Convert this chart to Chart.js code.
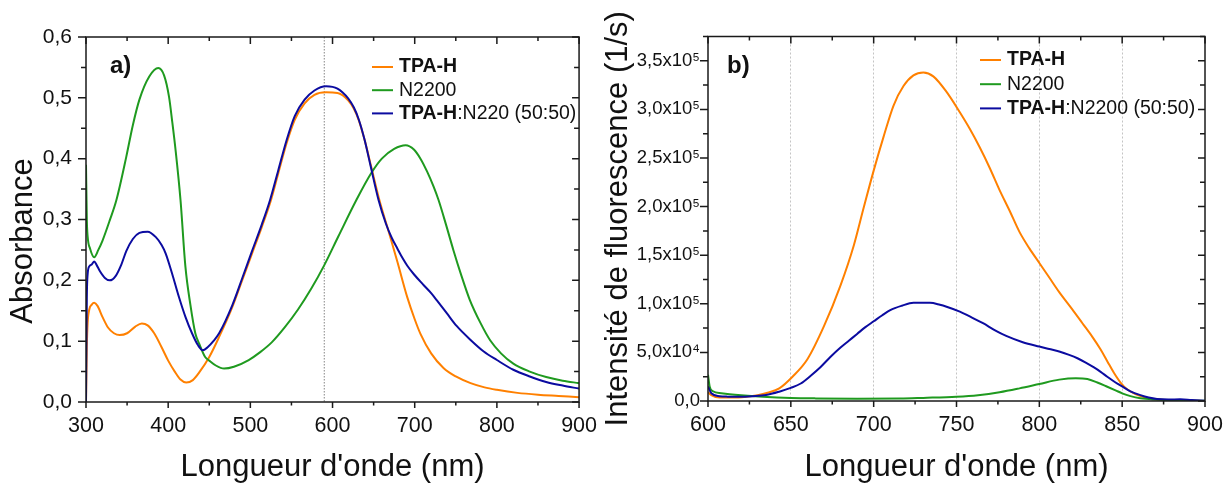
<!DOCTYPE html>
<html>
<head>
<meta charset="utf-8">
<script src="https://cdn.jsdelivr.net/npm/chart.js@4.4.1/dist/chart.umd.min.js"></script>
<style>
  html, body { margin: 0; padding: 0; background: #fff; }
  #wrap { position: relative; width: 1227px; height: 483px; }
  #abs-chart { position: absolute; left: 0; top: 0; }
  #fluo-chart { position: absolute; left: 600px; top: 0; }
</style>
</head>
<body>
<div id="wrap">
  <canvas id="abs-chart" width="600" height="483"></canvas>
  <canvas id="fluo-chart" width="627" height="483"></canvas>
</div>
<script>
const FONT = "'Liberation Sans', Arial, sans-serif"
const INK = '#111'
const COLORS = ['#ff8000', '#1f9a1f', '#0b0ba0']

// ---- a) absorbance ----
const tpaAbsX = [300, 301, 302, 304, 307, 310, 314, 320, 327, 334, 341, 350, 360, 368, 375, 383, 392, 400, 408, 415, 422, 430, 438, 450, 462, 478, 490, 502, 514, 524, 534, 544, 554, 566, 578, 592, 606, 619, 626, 632, 639, 647, 657, 669, 679, 691, 700, 707, 720, 735, 750, 768, 785, 800, 825, 850, 875, 900]
const tpaAbsY = [0, 0.09, 0.13, 0.152, 0.16, 0.163, 0.158, 0.14, 0.122, 0.113, 0.11, 0.113, 0.124, 0.129, 0.126, 0.113, 0.09, 0.068, 0.05, 0.037, 0.032, 0.036, 0.049, 0.074, 0.107, 0.156, 0.2, 0.244, 0.288, 0.327, 0.376, 0.425, 0.464, 0.491, 0.505, 0.509, 0.508, 0.496, 0.482, 0.463, 0.431, 0.387, 0.332, 0.277, 0.23, 0.172, 0.136, 0.112, 0.08, 0.056, 0.042, 0.031, 0.024, 0.02, 0.015, 0.012, 0.01, 0.008]

const n2200AbsX = [300, 301, 302, 305, 310, 315, 320, 329, 337, 349, 357, 365, 377, 388, 395, 401, 405, 409, 415, 421, 427, 433, 438, 445, 450, 458, 468, 480, 498, 512, 526, 542, 558, 574, 590, 607, 629, 647, 660, 675, 689, 699, 707, 715, 723, 729, 738, 747, 757, 767, 780, 792, 805, 820, 840, 860, 880, 900]
const n2200AbsY = [0.39, 0.3, 0.272, 0.252, 0.238, 0.25, 0.265, 0.299, 0.332, 0.403, 0.455, 0.497, 0.535, 0.549, 0.537, 0.502, 0.46, 0.414, 0.332, 0.222, 0.16, 0.113, 0.095, 0.074, 0.068, 0.06, 0.055, 0.058, 0.069, 0.082, 0.098, 0.123, 0.152, 0.186, 0.225, 0.272, 0.332, 0.376, 0.4, 0.416, 0.422, 0.415, 0.4, 0.379, 0.354, 0.332, 0.292, 0.25, 0.207, 0.168, 0.13, 0.101, 0.08, 0.063, 0.05, 0.041, 0.035, 0.031]

const blendAbsX = [300, 301, 302, 304, 307, 310, 313, 317, 323, 329, 336, 343, 349, 357, 365, 375, 385, 392, 397, 405, 413, 421, 429, 436, 442, 448, 455, 462, 478, 490, 502, 514, 524, 534, 544, 554, 566, 578, 592, 600, 606, 612, 619, 626, 632, 639, 646, 656, 665, 672, 679, 685, 691, 699, 711, 720, 727, 739, 751, 768, 784, 800, 820, 840, 860, 880, 900]
const blendAbsY = [0, 0.17, 0.21, 0.223, 0.226, 0.231, 0.225, 0.215, 0.204, 0.2, 0.207, 0.226, 0.248, 0.268, 0.278, 0.28, 0.271, 0.258, 0.244, 0.21, 0.173, 0.14, 0.113, 0.094, 0.085, 0.09, 0.1, 0.113, 0.159, 0.203, 0.248, 0.292, 0.332, 0.381, 0.43, 0.47, 0.497, 0.512, 0.519, 0.518, 0.515, 0.509, 0.499, 0.484, 0.464, 0.431, 0.39, 0.332, 0.293, 0.27, 0.252, 0.237, 0.224, 0.21, 0.192, 0.179, 0.167, 0.146, 0.125, 0.102, 0.083, 0.069, 0.053, 0.042, 0.033, 0.027, 0.022]

const absXTicks = [300, 400, 500, 600, 700, 800, 900]
const absYTicks = [0, 0.1, 0.2, 0.3, 0.4, 0.5, 0.6]
const absYLabels = ['0,0', '0,1', '0,2', '0,3', '0,4', '0,5', '0,6']
const markerNm = 590

// ---- b) fluorescence ----
const tpaFluoX = [600, 602, 607, 615, 623, 630, 636, 643, 651, 660, 670, 680, 688, 694, 700, 706, 712, 718, 724, 730, 736, 744, 752, 758, 764, 770, 776, 782, 788, 794, 800, 806, 812, 820, 826, 832, 837, 841, 845, 849, 853, 858, 863, 870, 877, 885, 900]
const tpaFluoY = [9000, 6000, 3500, 3500, 4400, 6000, 8500, 13000, 25000, 43000, 77000, 119000, 160000, 199000, 237000, 272000, 304000, 324000, 335000, 338000, 334000, 318000, 297000, 280000, 261000, 240000, 217000, 196000, 174000, 157000, 142000, 127000, 112000, 94000, 80000, 66000, 53000, 41000, 29000, 19000, 12000, 7000, 4000, 1800, 1000, 500, 0]

const n2200FluoX = [600, 601, 603, 608, 613, 620, 633, 650, 665, 690, 716, 730, 750, 763, 776, 788, 800, 812, 822, 829, 835, 841, 846, 850, 855, 861, 870, 880, 900]
const n2200FluoY = [27000, 15000, 10000, 8000, 6900, 5800, 4400, 3200, 2700, 2300, 2500, 3200, 4400, 6000, 9000, 13000, 17500, 22000, 23500, 22600, 19000, 14700, 11000, 7900, 5000, 2800, 1500, 800, 200]

const blendFluoX = [600, 602, 607, 612, 619, 627, 635, 643, 650, 656, 662, 668, 674, 680, 685, 690, 695, 700, 705, 710, 717, 724, 734, 740, 744, 752, 758, 766, 773, 780, 790, 800, 806, 812, 818, 823, 828, 833, 837, 841, 846, 850, 855, 861, 866, 871, 878, 885, 892, 900]
const blendFluoY = [15000, 8000, 5000, 4500, 4400, 5000, 6200, 9600, 13500, 18000, 26000, 35000, 45500, 55000, 62000, 69000, 76000, 82000, 88000, 93500, 98000, 101000, 101000, 99000, 97000, 92000, 87000, 80000, 73000, 67000, 60500, 56000, 53500, 51000, 47500, 44000, 39500, 34500, 30000, 25000, 19000, 15000, 10000, 6000, 3500, 2000, 1500, 1800, 1000, 300]

const fluoXTicks = [600, 650, 700, 750, 800, 850, 900]
const fluoYTicks = [0, 50000, 100000, 150000, 200000, 250000, 300000, 350000]
const fluoYLabels = ['0,0', '5,0x10\u2074', '1,0x10\u2075', '1,5x10\u2075', '2,0x10\u2075', '2,5x10\u2075', '3,0x10\u2075', '3,5x10\u2075']

const seriesNames = ['TPA-H', 'N2200', 'TPA-H:N2200 (50:50)']
const absLegend = [[['TPA-H', true]], [['N2200', false]], [['TPA-H', true], [':N220 (50:50)', false]]]
const fluoLegend = [[['TPA-H', true]], [['N2200', false]], [['TPA-H', true], [':N2200 (50:50)', false]]]

function toPoints(xs, ys) {
    return xs.map((x, i) => ({ x: x, y: ys[i] }))
}

function makeDatasets(pairs) {
    // orange at the bottom, blue on top
    return pairs.map(([xs, ys], i) => ({
        label: seriesNames[i],
        data: toPoints(xs, ys),
        borderColor: COLORS[i],
        borderWidth: 2,
        pointRadius: 0,
        cubicInterpolationMode: 'monotone',
        order: 3 - i,
    }))
}

// box round the plot with Origin style ticks (out on left/bottom, in on top/right)
const framePlugin = {
    id: 'frame',
    afterDraw(chart, args, opts) {
        let { ctx, chartArea: a, scales: { x, y } } = chart
        ctx.save()
        ctx.strokeStyle = '#1a1a1a'
        ctx.lineWidth = 1.5
        ctx.strokeRect(a.left, a.top, a.right - a.left, a.bottom - a.top)
        ctx.beginPath()
        let nx = Math.round((x.max - x.min) / opts.xMinor)
        for (let i = 0; i <= nx; i++) {
            let px = x.getPixelForValue(x.min + i * opts.xMinor)
            let major = i % 2 === 0
            ctx.moveTo(px, a.bottom); ctx.lineTo(px, a.bottom + (major ? 6 : 3.5))
            ctx.moveTo(px, a.top); ctx.lineTo(px, a.top + (major ? 7 : 4))
        }
        let ny = Math.round((y.max - y.min) / opts.yMinor)
        for (let i = 0; i <= ny; i++) {
            let py = y.getPixelForValue(y.min + i * opts.yMinor)
            let major = i % 2 === 0
            ctx.moveTo(a.left, py); ctx.lineTo(a.left - (major ? 8 : 5), py)
            ctx.moveTo(a.right, py); ctx.lineTo(a.right - (major ? 7 : 5), py)
        }
        ctx.stroke()
        ctx.restore()
    }
}

// legend with part-bold labels, panel letter, optional free y title
const notesPlugin = {
    id: 'notes',
    beforeDatasetsDraw(chart, args, opts) {
        if (opts.marker == null) return
        let { ctx, chartArea: a, scales: { x } } = chart
        let px = x.getPixelForValue(opts.marker)
        ctx.save()
        ctx.strokeStyle = '#9a9a9a'
        ctx.lineWidth = 1.2
        ctx.setLineDash([1.5, 1.5])
        ctx.beginPath(); ctx.moveTo(px, a.top); ctx.lineTo(px, a.bottom); ctx.stroke()
        ctx.restore()
    },
    afterDraw(chart, args, opts) {
        let { ctx } = chart
        ctx.save()
        ctx.textBaseline = 'middle'
        ctx.fillStyle = INK
        chart.data.datasets.forEach((ds, i) => {
            let yy = opts.top + i * opts.rowGap
            ctx.strokeStyle = ds.borderColor
            ctx.lineWidth = 2
            ctx.beginPath(); ctx.moveTo(opts.left, yy); ctx.lineTo(opts.left + 21, yy); ctx.stroke()
            let xx = opts.left + 27
            for (let [txt, bold] of opts.items[i]) {
                ctx.font = (bold ? 'bold ' : '') + '19.5px ' + FONT
                ctx.fillText(txt, xx, yy)
                xx += ctx.measureText(txt).width
            }
        })
        ctx.textBaseline = 'alphabetic'
        ctx.font = 'bold 24px ' + FONT
        ctx.fillText(opts.panel, opts.panelX, 73)
        if (opts.yTitle) {
            ctx.translate(opts.yTitleX, opts.yTitleY)
            ctx.rotate(-Math.PI / 2)
            ctx.textAlign = 'center'
            ctx.textBaseline = 'middle'
            ctx.font = '31px ' + FONT
            ctx.fillText(opts.yTitle, 0, 0)
        }
        ctx.restore()
    }
}

function xScale(min, max, ticks, height, gridColor) {
    return {
        type: 'linear', min: min, max: max,
        afterBuildTicks: s => { s.ticks = ticks.map(v => ({ value: v })) },
        afterFit: s => { s.height = height },
        ticks: { font: { family: FONT, size: 21.5 }, color: INK, padding: 3, maxRotation: 0, autoSkip: false },
        grid: { drawOnChartArea: !!gridColor, color: gridColor || 'transparent', tickColor: 'transparent', tickLength: 8, lineWidth: 1 },
        border: { display: false, dash: [2, 2] },
        title: { display: true, text: "Longueur d'onde (nm)", color: INK, font: { family: FONT, size: 31, lineHeight: 1 }, padding: { top: 0, bottom: 0.5 } },
    }
}

function yScale(min, max, ticks, labels, width, size, pad, title) {
    return {
        type: 'linear', min: min, max: max,
        afterBuildTicks: s => { s.ticks = ticks.map(v => ({ value: v })) },
        afterFit: s => { s.width = width },
        ticks: { font: { family: FONT, size: size }, color: INK, padding: pad, autoSkip: false, callback: (v, i) => labels[i] },
        grid: { drawOnChartArea: false, tickColor: 'transparent', tickLength: 8 },
        border: { display: false },
        title: title ? { display: true, text: title, color: INK, font: { family: FONT, size: 31, lineHeight: 1 }, padding: { top: 3, bottom: 0 } } : { display: false },
    }
}

new Chart(document.getElementById('abs-chart'), {
    type: 'line',
    data: { datasets: makeDatasets([[tpaAbsX, tpaAbsY], [n2200AbsX, n2200AbsY], [blendAbsX, blendAbsY]]) },
    options: {
        responsive: false,
        animation: false,
        layout: { padding: { left: 0, right: 17, top: 37, bottom: 0 } },
        scales: {
            x: xScale(300, 900, absXTicks, 81, null),
            y: yScale(0, 0.6, absYTicks, absYLabels, 86, 21, 6, null),
        },
        plugins: {
            legend: { display: false },
            tooltip: { enabled: false },
            frame: { xMinor: 50, yMinor: 0.05 },
            notes: { items: absLegend, left: 372, top: 67, rowGap: 23.2, panel: 'a)', panelX: 110, marker: markerNm, yTitle: 'Absorbance', yTitleX: 23, yTitleY: 241 },
        },
    },
    plugins: [framePlugin, notesPlugin],
})

new Chart(document.getElementById('fluo-chart'), {
    type: 'line',
    data: { datasets: makeDatasets([[tpaFluoX, tpaFluoY], [n2200FluoX, n2200FluoY], [blendFluoX, blendFluoY]]) },
    options: {
        responsive: false,
        animation: false,
        layout: { padding: { left: 0, right: 22, top: 36.5, bottom: 0 } },
        scales: {
            x: xScale(600, 900, fluoXTicks, 82, c => (c.tick && c.tick.value > 600 && c.tick.value < 900) ? '#c4c4c4' : 'transparent'),
            y: yScale(0, 375000, fluoYTicks, fluoYLabels, 108, 18.5, 0, 'Intensité de fluorescence (1/s)'),
        },
        plugins: {
            legend: { display: false },
            tooltip: { enabled: false },
            frame: { xMinor: 25, yMinor: 25000 },
            notes: { items: fluoLegend, left: 380, top: 60, rowGap: 24.2, panel: 'b)', panelX: 127 },
        },
    },
    plugins: [framePlugin, notesPlugin],
})
</script>
</body>
</html>
